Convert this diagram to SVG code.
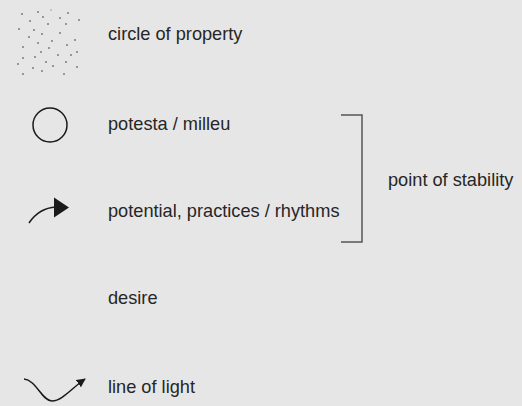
<svg xmlns="http://www.w3.org/2000/svg" width="522" height="406" viewBox="0 0 522 406">
<style>
.t{font-family:"Liberation Sans",Arial,sans-serif;font-size:18.2px;fill:#262626}
.d{fill:#333}
.s{fill:none;stroke:#1a1a1a;stroke-width:1.5}
.b{fill:none;stroke:#555;stroke-width:1.5}
</style>
<defs>
<marker id="ah" viewBox="0 0 10 10" refX="9" refY="5" markerWidth="9" markerHeight="9" markerUnits="userSpaceOnUse" orient="auto"><path d="M0,0L10,5L0,10z" fill="#1a1a1a"/></marker>
</defs>
<rect width="522" height="406" fill="#e6e6e7"/>
<g id="property">
<g class="d">
<circle cx="22" cy="14" r="0.8"/><circle cx="38" cy="12" r="0.8"/><circle cx="51" cy="10" r="0.5"/><circle cx="68" cy="13" r="0.8"/>
<circle cx="30" cy="21" r="0.8"/><circle cx="43" cy="17" r="0.8"/><circle cx="60" cy="18" r="0.8"/><circle cx="79" cy="20" r="0.8"/>
<circle cx="48" cy="24" r="0.8"/><circle cx="66" cy="24" r="0.8"/><circle cx="19" cy="29" r="0.8"/><circle cx="34" cy="30" r="0.8"/>
<circle cx="42" cy="34" r="0.8"/><circle cx="60" cy="33" r="0.8"/><circle cx="29" cy="37" r="0.8"/><circle cx="75" cy="40" r="0.8"/>
<circle cx="52" cy="41" r="0.8"/><circle cx="38" cy="43" r="0.8"/><circle cx="67" cy="45" r="0.8"/><circle cx="23" cy="47" r="0.8"/>
<circle cx="49" cy="48" r="0.8"/><circle cx="41" cy="52" r="0.8"/><circle cx="77" cy="52" r="0.8"/><circle cx="58" cy="55" r="0.8"/>
<circle cx="71" cy="55" r="0.8"/><circle cx="35" cy="57" r="0.8"/><circle cx="23" cy="58" r="0.8"/><circle cx="46" cy="62" r="0.8"/>
<circle cx="66" cy="62" r="0.8"/><circle cx="18" cy="64" r="0.8"/><circle cx="53" cy="66" r="0.8"/><circle cx="77" cy="67" r="0.8"/>
<circle cx="33" cy="68" r="0.8"/><circle cx="42" cy="71" r="0.8"/><circle cx="23" cy="74" r="0.8"/><circle cx="64" cy="74" r="0.8"/>
</g>
<text class="t" x="108" y="40">circle of property</text>
</g>
<g id="potesta">
<circle class="s" cx="50" cy="125" r="17"/>
<text class="t" x="108" y="130">potesta / milleu</text>
</g>
<g id="potential">
<path class="s" d="M29,223 Q39,208 56,207"/>
<path d="M54,197.5L69,207.5L54,217.5z" fill="#1a1a1a"/>
<text class="t" x="108" y="217">potential, practices / rhythms</text>
</g>
<g id="stability">
<text class="t" x="388" y="186">point of stability</text>
</g>
<g id="desire">
<text class="t" x="108" y="304">desire</text>
</g>
<g id="light">
<path class="s" d="M24,379 C36,380 42,401 52,401 C62,401 72,388 85,379" marker-end="url(#ah)"/>
<text class="t" x="108" y="393">line of light</text>
</g>
<g id="connectors">
<path class="b" d="M341,115H362V242H341"/>
</g>
</svg>
